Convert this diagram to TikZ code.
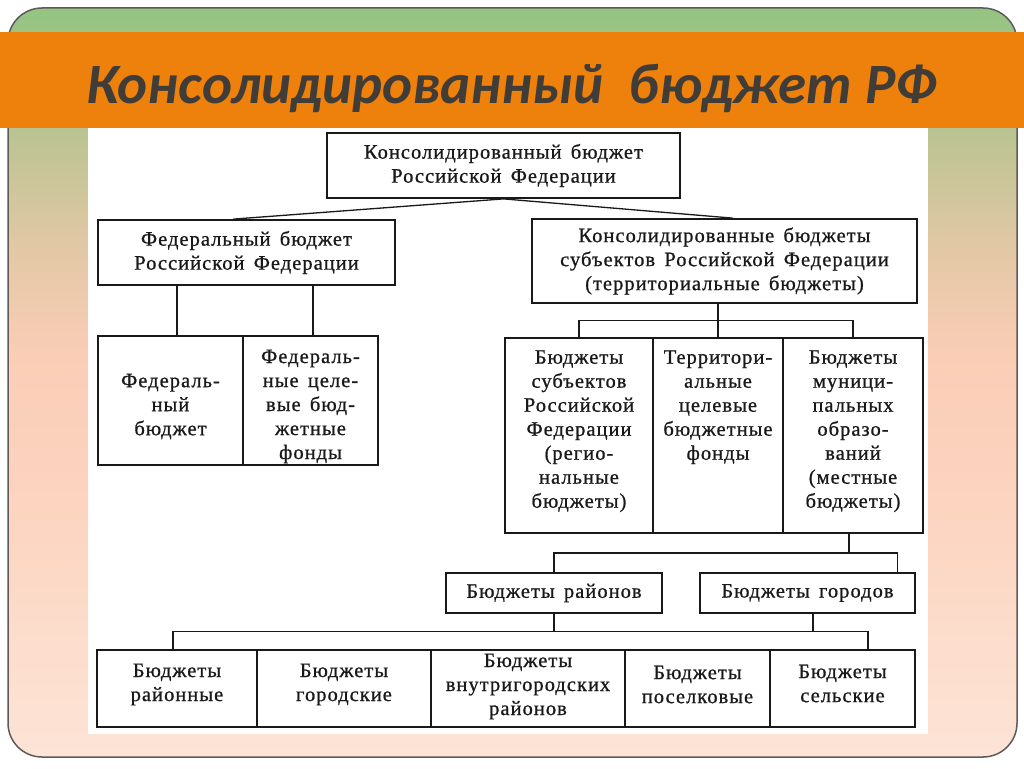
\documentclass[tikz,border=0pt]{standalone}
\usepackage{fontspec}
\setmainfont{Liberation Serif}[LetterSpace=5,WordSpace=1.5,FakeBold=0.8]
\newfontfamily\titlefont{Carlito}
\usetikzlibrary{calc}
\definecolor{grtop}{RGB}{148,196,130}
\definecolor{grgt}{RGB}{185,195,145}
\definecolor{grtan}{RGB}{226,200,165}
\definecolor{grmid}{RGB}{250,205,182}
\definecolor{grlow}{RGB}{252,212,192}
\definecolor{grbot}{RGB}{253,228,214}
\definecolor{band}{RGB}{238,128,12}
\definecolor{titletxt}{RGB}{64,60,56}
\definecolor{ink}{RGB}{25,25,25}
\definecolor{frame}{RGB}{95,90,90}
\pgfdeclareverticalshading{bgshade}{100bp}{color(0bp)=(grbot); color(25bp)=(grbot);
  color(42bp)=(grlow); color(52bp)=(grmid); color(59bp)=(grtan); color(67bp)=(grgt);
  color(75bp)=(grtop); color(100bp)=(grtop)}
\tikzset{
  box/.style={draw=ink, line width=1.8pt, rectangle, inner sep=0pt, align=center,
    font=\fontsize{20.5}{24}\selectfont, text=ink},
  txt/.style={inner sep=0pt, align=center, font=\fontsize{20.5}{24}\selectfont, text=ink},
  conn/.style={draw=ink, line width=1.3pt},
}
\begin{document}
\begin{tikzpicture}[x=1pt,y=-1pt]
\useasboundingbox (0,0) rectangle (1024,768);
\fill[white] (0,0) rectangle (1024,768);
% background frame
\shade[shading=bgshade, rounded corners=34pt] (8,8) rectangle (1017,757);
\draw[frame, line width=1.5pt, rounded corners=34pt] (8,8) rectangle (1017,757);
% white panel
\fill[white] (88,118) rectangle (928,734);
% orange band
\fill[band] (0,32) rectangle (1024,128);
\node[font=\titlefont\bfseries\itshape\fontsize{57}{64}\selectfont, text=titletxt, anchor=base]
  (title) at (512,103) {Консолидированный\ \ бюджет РФ};

% boxes
\node[box, minimum width=353pt, minimum height=65pt] (top) at (503.5,165.5)
  {Консолидированный бюджет\\Российской Федерации};
\node[box, minimum width=297pt, minimum height=65pt] (fed) at (246.5,252.5)
  {Федеральный бюджет\\Российской Федерации};
\node[box, minimum width=385pt, minimum height=84pt] (cons) at (724.5,261)
  {Консолидированные бюджеты\\субъектов Российской Федерации\\(территориальные бюджеты)};

\node[box, minimum width=145pt, minimum height=129pt] (fedL) at (170.5,400.5) {};
\node[box, minimum width=135pt, minimum height=129pt] (fedR) at (310.5,400.5) {};
\node[txt] (fedLt) at ([yshift=-6pt]fedL.center) {Федераль-\\ный\\бюджет};
\node[txt] (fedRt) at ([yshift=-6pt]fedR.center) {Федераль-\\ные целе-\\вые бюд-\\жетные\\фонды};

\node[box, minimum width=148pt, minimum height=195pt] (sub1) at (579,435.5) {};
\node[box, minimum width=130pt, minimum height=195pt] (sub2) at (718,435.5) {};
\node[box, minimum width=140pt, minimum height=195pt] (sub3) at (853,435.5) {};
\node[txt, anchor=north] (sub1t) at ([yshift=-13pt]sub1.north)
  {Бюджеты\\субъектов\\Российской\\Федерации\\(регио-\\нальные\\бюджеты)};
\node[txt, anchor=north] (sub2t) at ([yshift=-13pt]sub2.north)
  {Территори-\\альные\\целевые\\бюджетные\\фонды};
\node[txt, anchor=north] (sub3t) at ([yshift=-13pt]sub3.north)
  {Бюджеты\\муници-\\пальных\\образо-\\ваний\\(местные\\бюджеты)};

\node[box, minimum width=216pt, minimum height=40pt] (ray) at (554,593) {Бюджеты районов};
\node[box, minimum width=215pt, minimum height=40pt] (gor) at (807.5,593) {Бюджеты городов};

\node[box, minimum width=160pt, minimum height=77pt] (b1) at (177,688.5) {};
\node[box, minimum width=174pt, minimum height=77pt] (b2) at (344,688.5) {};
\node[box, minimum width=194pt, minimum height=77pt] (b3) at (528,688.5) {};
\node[box, minimum width=145pt, minimum height=77pt] (b4) at (697.5,688.5) {};
\node[box, minimum width=145pt, minimum height=77pt] (b5) at (842.5,688.5) {};
\node[txt] (b1t) at ([yshift=4pt]b1.center) {Бюджеты\\районные};
\node[txt] (b2t) at ([yshift=4pt]b2.center) {Бюджеты\\городские};
\node[txt] (b3t) at ([yshift=2pt]b3.center) {Бюджеты\\внутригородских\\районов};
\node[txt] (b4t) at ([yshift=4pt]b4.center) {Бюджеты\\поселковые};
\node[txt] (b5t) at ([yshift=5pt]b5.center) {Бюджеты\\сельские};

% connectors
\draw[conn] (top.south) -- ([xshift=-13pt]fed.north);
\draw[conn] (top.south) -- ([xshift=8pt]cons.north);

\coordinate (f1) at ([xshift=6.5pt]fedL.north);
\coordinate (f2) at ([xshift=2.5pt]fedR.north);
\draw[conn] (f1) -- (f1 |- fed.south);
\draw[conn] (f2) -- (f2 |- fed.south);

\coordinate (h1) at ($(sub1.north)!0.5!(sub1.north |- cons.south)$);
\draw[conn] (sub1.north) -- (sub1.north |- h1) -- (sub3.north |- h1) -- (sub3.north);
\draw[conn] (sub2.north) -- (sub2.north |- cons.south);

\coordinate (h2) at ($(sub3.south)!0.5!(sub3.south |- ray.north)$);
\coordinate (g1) at ([xshift=90pt]gor.north);
\draw[conn] (ray.north) -- (ray.north |- h2) -- (g1 |- h2) -- (g1);
\draw[conn] ([xshift=-4pt]sub3.south) -- ([xshift=-4pt]sub3.south |- h2);

\coordinate (h3) at ($(ray.south)!0.5!(ray.south |- b1.north)$);
\coordinate (k1) at ([xshift=-4pt]b1.north);
\coordinate (k5) at ([xshift=25.5pt]b5.north);
\coordinate (k6) at ([xshift=5.5pt]gor.south);
\draw[conn] (k1) -- (k1 |- h3) -- (k5 |- h3) -- (k5);
\draw[conn] (ray.south) -- (ray.south |- h3);
\draw[conn] (k6) -- (k6 |- h3);
\end{tikzpicture}
\end{document}
